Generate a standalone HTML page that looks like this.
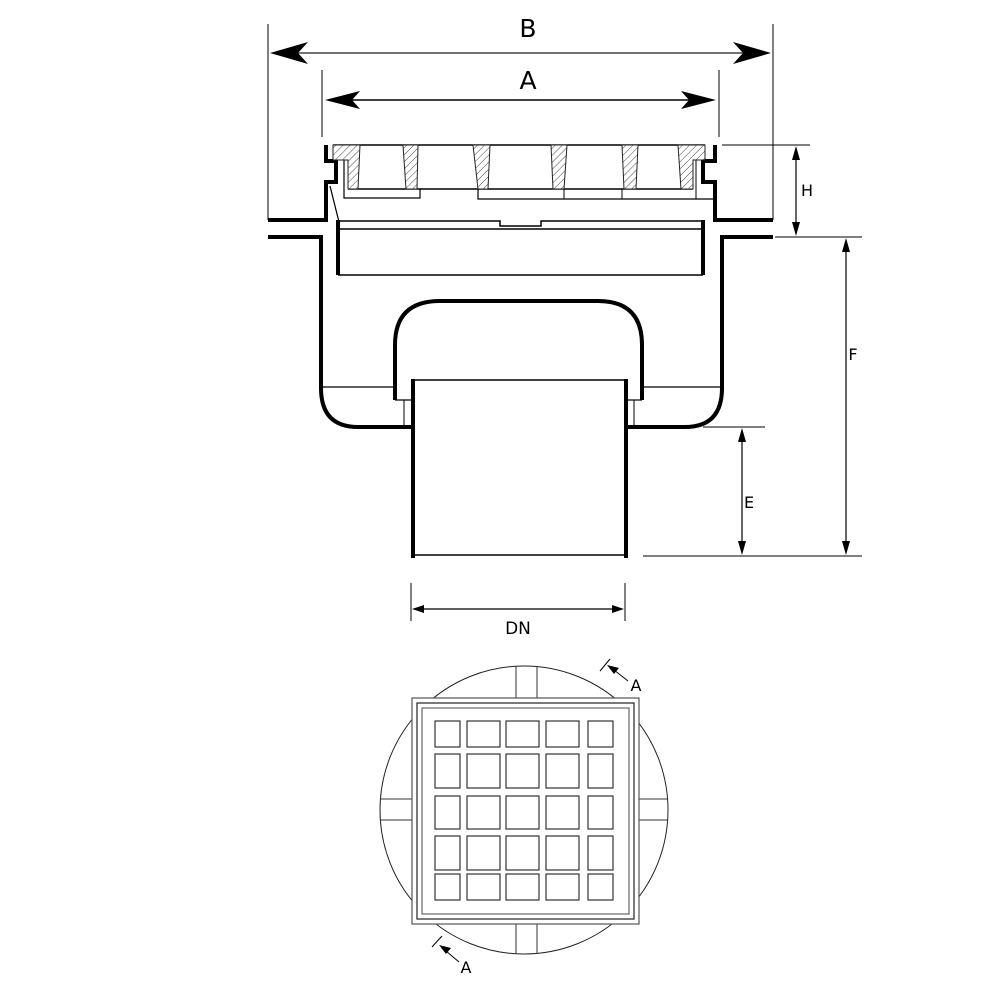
<!DOCTYPE html>
<html><head><meta charset="utf-8"><style>html,body{margin:0;padding:0;background:#fff}svg{display:block}</style></head>
<body>
<svg width="1001" height="1004" viewBox="0 0 1001 1004" xmlns="http://www.w3.org/2000/svg" font-family="DejaVu Sans, Liberation Sans, sans-serif">
<defs>
<pattern id="h" width="5" height="5" patternUnits="userSpaceOnUse" patternTransform="rotate(45)">
<rect width="5" height="5" fill="#fff"/><line x1="0" y1="0" x2="0" y2="5" stroke="#444" stroke-width="1"/></pattern>
<clipPath id="cc"><circle cx="524" cy="810" r="144"/></clipPath>
</defs>
<g fill="none" stroke="#000">
<line x1="268" y1="24" x2="268" y2="220" stroke-width="1"/>
<line x1="773" y1="24" x2="773" y2="220" stroke-width="1"/>
<line x1="290" y1="53" x2="750" y2="53" stroke-width="1.5" stroke="#444"/>
<line x1="322" y1="70" x2="322" y2="137" stroke-width="1"/>
<line x1="719" y1="70" x2="719" y2="137" stroke-width="1"/>
<line x1="345" y1="100" x2="695" y2="100" stroke-width="1.5"/>
<polyline points="268,220 326,220" stroke-width="4"/>
<polyline points="715,220 773,220" stroke-width="4"/>
<polyline points="268,237 321,237 321,390" stroke-width="4"/>
<polyline points="773,237 722,237 722,390" stroke-width="4"/>
<path d="M321,388 Q321,427 358,427 L413,427" stroke-width="4"/>
<path d="M722,388 Q722,427 685,427 L627,427" stroke-width="4"/>
<line x1="321" y1="387" x2="395" y2="387" stroke-width="1.2"/>
<line x1="642" y1="387" x2="722" y2="387" stroke-width="1.2"/>
<polyline points="326,145 326,161 336,161 336,182 326,182 326,222" stroke-width="4"/>
<polyline points="715,145 715,161 703,161 703,182 715,182 715,222" stroke-width="4"/>
<line x1="338" y1="220" x2="338" y2="275" stroke-width="4"/>
<line x1="703" y1="220" x2="703" y2="275" stroke-width="4"/>
<line x1="338" y1="275" x2="703" y2="275" stroke-width="1.5"/>
<line x1="338" y1="229" x2="703" y2="229" stroke-width="1.5"/>
<polyline points="338,221 500,221 500,226 541,226 541,221 703,221" stroke-width="1.5"/>
<line x1="330" y1="186" x2="339" y2="222" stroke-width="1.2"/>
<line x1="333" y1="145" x2="705" y2="145" stroke-width="1.5"/>
<line x1="348" y1="189" x2="693" y2="189" stroke-width="1.5"/>
<polyline points="344,160 344,198 420,198 420,189" stroke-width="1.2"/>
<polyline points="478,189 478,199 713,199" stroke-width="1.2"/>
<line x1="564" y1="189" x2="564" y2="199" stroke-width="1"/>
<line x1="622" y1="189" x2="622" y2="199" stroke-width="1"/>
<line x1="696" y1="160" x2="696" y2="199" stroke-width="1"/>
</g>
<g fill="url(#h)" stroke="#222" stroke-width="1">
<polygon points="333,145 360,145 358,189 348,189 348,160 333,160"/>
<polygon points="403,145 418,145 417,189 406,189"/>
<polygon points="473,145 490,145 488,189 478,189"/>
<polygon points="551,145 567,145 564,189 553,189"/>
<polygon points="622,145 638,145 636,189 624,189"/>
<polygon points="678,145 705,145 705,160 693,160 693,189 681,189"/>
</g>
<g fill="none" stroke="#000">
<path d="M395,400 L395,345 Q395,301 440,301 L598,301 Q642,301 642,345 L642,400" stroke-width="4"/>
<line x1="395" y1="400" x2="413" y2="400" stroke-width="1.2"/>
<line x1="626" y1="400" x2="642" y2="400" stroke-width="1.2"/>
<line x1="404" y1="400" x2="404" y2="427" stroke-width="1"/>
<line x1="634" y1="400" x2="634" y2="427" stroke-width="1"/>
<line x1="413" y1="379" x2="413" y2="558" stroke-width="4"/>
<line x1="626" y1="379" x2="626" y2="558" stroke-width="4"/>
<line x1="413" y1="380" x2="626" y2="380" stroke-width="1.5"/>
<line x1="413" y1="555" x2="626" y2="555" stroke-width="1.5"/>
<line x1="722" y1="145" x2="810" y2="145" stroke-width="1"/>
<line x1="775" y1="237" x2="862" y2="237" stroke-width="1"/>
<line x1="796" y1="150" x2="796" y2="232" stroke-width="1.2"/>
<line x1="846" y1="242" x2="846" y2="551" stroke-width="1.2"/>
<line x1="703" y1="427" x2="765" y2="427" stroke-width="1"/>
<line x1="742" y1="432" x2="742" y2="551" stroke-width="1.2"/>
<line x1="643" y1="556" x2="862" y2="556" stroke-width="1"/>
<line x1="411" y1="583" x2="411" y2="621" stroke-width="1"/>
<line x1="625" y1="583" x2="625" y2="621" stroke-width="1"/>
<line x1="416" y1="609" x2="620" y2="609" stroke-width="1.2"/>
</g>
<g fill="#000">
<polygon points="270,53 308,42 298,53 308,64"/>
<polygon points="771,53 733,42 743,53 733,64"/>
<polygon points="325,100 360,91 352,100 360,109"/>
<polygon points="716,100 681,91 689,100 681,109"/>
<polygon points="796,146 792,160 800,160"/>
<polygon points="796,236 792,222 800,222"/>
<polygon points="846,238 842,252 850,252"/>
<polygon points="846,555 842,541 850,541"/>
<polygon points="742,428 738,442 746,442"/>
<polygon points="742,555 738,541 746,541"/>
<polygon points="412,609 424,605 424,613"/>
<polygon points="624,609 612,605 612,613"/>
</g>
<g fill="#000" text-anchor="middle">
<text x="528" y="37" font-size="25">B</text>
<text x="528" y="89" font-size="25">A</text>
<text x="807" y="196" font-size="16">H</text>
<text x="853" y="360" font-size="16">F</text>
<text x="749" y="508" font-size="16">E</text>
<text x="518" y="634" font-size="17">DN</text>
<text x="636" y="691" font-size="16">A</text>
<text x="466" y="973" font-size="16">A</text>
</g>
<circle cx="524" cy="810" r="144" fill="none" stroke="#222" stroke-width="1"/>
<g stroke="#333" stroke-width="1" clip-path="url(#cc)">
<line x1="516" y1="660" x2="516" y2="698"/><line x1="537" y1="660" x2="537" y2="698"/>
<line x1="516" y1="924" x2="516" y2="960"/><line x1="537" y1="924" x2="537" y2="960"/>
<line x1="375" y1="799" x2="412" y2="799"/><line x1="375" y1="820" x2="412" y2="820"/>
<line x1="639" y1="799" x2="675" y2="799"/><line x1="639" y1="820" x2="675" y2="820"/>
</g>
<g fill="#fff" stroke="#555" stroke-width="1.2">
<rect x="412" y="698" width="227" height="226"/>
<rect x="417" y="703" width="217" height="216" stroke="#222"/>
<rect x="422" y="708" width="207" height="206" stroke="#666"/>
</g>
<g fill="none" stroke="#333" stroke-width="1.2">
<rect x="435" y="721" width="25" height="26"/><rect x="467" y="721" width="33" height="26"/><rect x="506" y="721" width="33" height="26"/><rect x="546" y="721" width="33" height="26"/><rect x="588" y="721" width="25" height="26"/>
<rect x="435" y="754" width="25" height="34"/><rect x="467" y="754" width="33" height="34"/><rect x="506" y="754" width="33" height="34"/><rect x="546" y="754" width="33" height="34"/><rect x="588" y="754" width="25" height="34"/>
<rect x="435" y="796" width="25" height="33"/><rect x="467" y="796" width="33" height="33"/><rect x="506" y="796" width="33" height="33"/><rect x="546" y="796" width="33" height="33"/><rect x="588" y="796" width="25" height="33"/>
<rect x="435" y="836" width="25" height="34"/><rect x="467" y="836" width="33" height="34"/><rect x="506" y="836" width="33" height="34"/><rect x="546" y="836" width="33" height="34"/><rect x="588" y="836" width="25" height="34"/>
<rect x="435" y="874" width="25" height="26"/><rect x="467" y="874" width="33" height="26"/><rect x="506" y="874" width="33" height="26"/><rect x="546" y="874" width="33" height="26"/><rect x="588" y="874" width="25" height="26"/>
</g>
<g stroke="#000" stroke-width="1">
<line x1="600" y1="671" x2="610" y2="659"/>
<line x1="628" y1="681" x2="614" y2="670"/>
<line x1="432" y1="947" x2="442" y2="936"/>
<line x1="459" y1="962" x2="446" y2="951"/>
</g>
<g fill="#000">
<polygon points="607,665 619,668 614,674"/>
<polygon points="439,945 451,948 446,954"/>
</g>
</svg>
</body></html>
